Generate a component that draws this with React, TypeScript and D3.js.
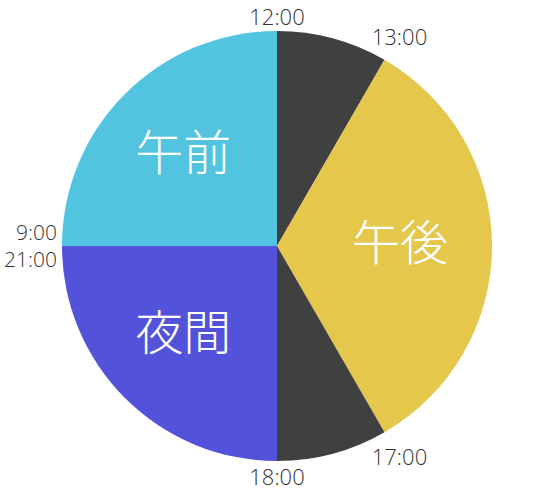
import * as d3 from "d3";

const hours = [1, 4, 1, 3, 3];
const names = ["", "午後", "", "夜間", "午前"];
const colors = ["#404040", "#e4c74b", "#404040", "#5252da", "#52c4e0"];
const startLabels = ["12:00", "13:00", "17:00", "18:00", "9:00"];
const nightEndLabel = "21:00";

export default function App({
  width = 555,
  height = 503,
  cx = 277,
  cy = 246,
  radius = 215,
}) {
  const pie = d3.pie<number>().sort(null).value((d) => d);
  const arcs = pie(hours);
  const arc = d3.arc<d3.PieArcDatum<number>>().innerRadius(0).outerRadius(radius);
  const labelArc = d3.arc<d3.PieArcDatum<number>>().innerRadius(0).outerRadius(254);

  // boundary labels sit outside the rim, pushed further out sideways
  const tickPos = (a: number) => {
    const s = Math.sin(a);
    const c = Math.cos(a);
    const r = radius + 28 * Math.abs(s) + 15 * Math.abs(c);
    return [r * s + 3 * s, -r * c];
  };

  const timeFont = "'Open Sans', sans-serif";
  const cjkFont = "'Noto Sans CJK JP', sans-serif";

  return (
    <svg
      width={width}
      height={height}
      style={{ position: "absolute", left: 0, top: 0, background: "#fff" }}
    >
      <g transform={`translate(${cx},${cy})`}>
        {arcs.map((d, i) => (
          <path key={i} d={arc(d) ?? ""} fill={colors[i]} />
        ))}
        {arcs.map((d, i) => {
          if (!names[i]) return null;
          const [x, y] = labelArc.centroid(d);
          return (
            <text
              key={`n${i}`}
              x={x - 4}
              y={y - 7}
              fill="#fff"
              fontFamily={cjkFont}
              fontWeight={300}
              fontSize={48}
              textAnchor="middle"
              dominantBaseline="central"
            >
              {names[i]}
            </text>
          );
        })}
        {arcs.map((d, i) => {
          const a = d.startAngle;
          if (Math.abs(Math.sin(a)) > 0.99) {
            // 9:00 / 21:00 share the left boundary
            return (
              <g key={`t${i}`} fontFamily={timeFont} fontWeight={300} fontSize={21} fill="#333" textAnchor="end">
                <text x={-radius - 5} y={-6}>{startLabels[i]}</text>
                <text x={-radius - 5} y={21}>{nightEndLabel}</text>
              </g>
            );
          }
          const [x, y] = tickPos(a);
          return (
            <text
              key={`t${i}`}
              x={x}
              y={y}
              fill="#333"
              fontFamily={timeFont}
              fontWeight={300}
              fontSize={22}
              textAnchor="middle"
              dominantBaseline="central"
            >
              {startLabels[i]}
            </text>
          );
        })}
      </g>
    </svg>
  );
}
